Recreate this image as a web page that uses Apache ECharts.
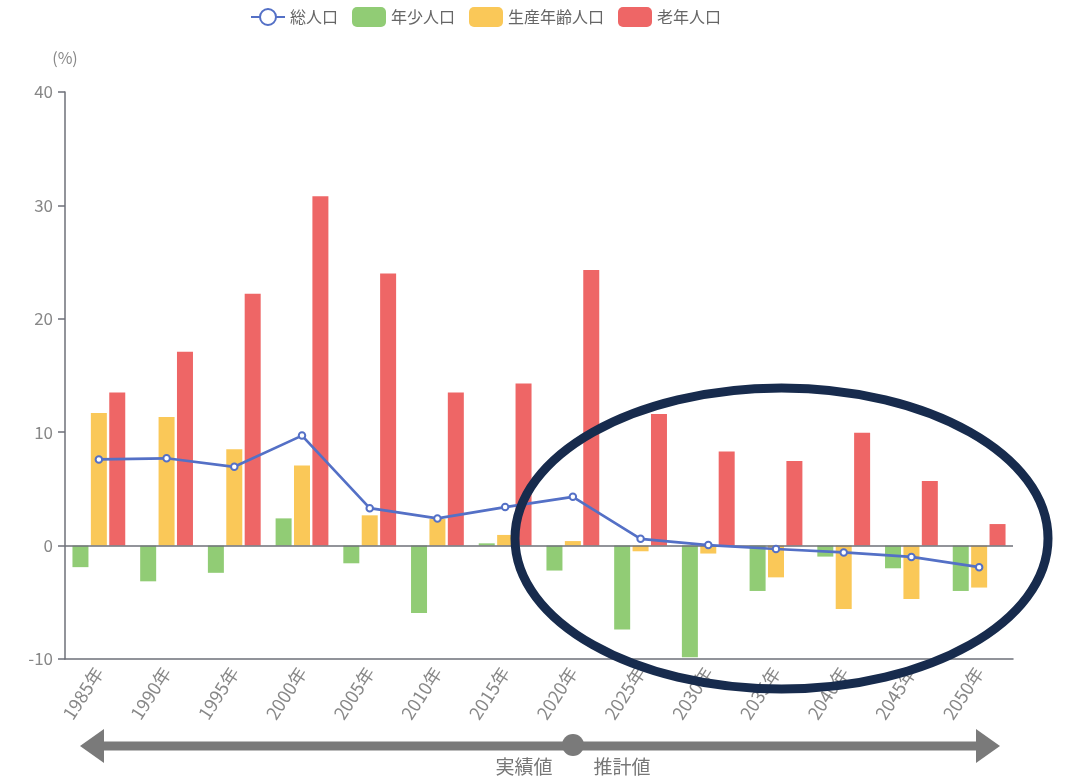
<!DOCTYPE html>
<html>
<head>
<meta charset="utf-8">
<script src="https://cdn.jsdelivr.net/npm/echarts@6/dist/echarts.min.js"></script>
<style>
html,body{margin:0;padding:0;background:#fff;}
#chart{width:1066px;height:783px;}
</style>
</head>
<body>
<div id="chart"></div>
<script>
const categories = ['1985年','1990年','1995年','2000年','2005年','2010年','2015年','2020年','2025年','2030年','2035年','2040年','2045年','2050年'];
const seriesNames = ['総人口','年少人口','生産年齢人口','老年人口'];
const total      = [7.6, 7.7, 6.95, 9.7, 3.3, 2.4, 3.4, 4.3, 0.6, 0.05, -0.3, -0.6, -1.0, -1.9];
const youth      = [-1.9, -3.15, -2.4, 2.4, -1.56, -5.94, 0.2, -2.2, -7.4, -9.85, -4.0, -0.97, -2.0, -4.0];
const working    = [11.7, 11.35, 8.5, 7.06, 2.67, 2.35, 0.94, 0.4, -0.5, -0.7, -2.8, -5.6, -4.7, -3.7];
const elderly    = [13.5, 17.1, 22.2, 30.8, 24.0, 13.5, 14.3, 24.3, 11.6, 8.3, 7.45, 9.95, 5.7, 1.9];
const yTicks = { min: -10, max: 40, interval: 10 };
const periodLabels = ['実績値', '推計値'];

const FONT = '"Noto Sans CJK JP", "Noto Sans", sans-serif';
const chart = echarts.init(document.getElementById('chart'), null, { renderer: 'canvas' });

const barCommon = { type: 'bar', barWidth: 16, barGap: '15%' };

chart.setOption({
  animation: false,
  textStyle: { fontFamily: FONT },
  color: ['#5470c6', '#91cc75', '#fac858', '#ee6666'],
  legend: {
    top: 2,
    left: 245,
    itemWidth: 34,
    itemHeight: 20,
    itemGap: 14,
    textStyle: { fontSize: 16, color: '#666', fontFamily: FONT },
    data: seriesNames
  },
  grid: { left: 65, right: 53, top: 92, bottom: 124, containLabel: false },
  xAxis: {
    type: 'category',
    data: categories,
    axisLine: { onZero: false, lineStyle: { color: '#6e7079', width: 1.5 } },
    axisTick: { alignWithLabel: true, length: 7, lineStyle: { color: '#6e7079', width: 1.5 } },
    axisLabel: { rotate: 57, fontSize: 18, color: '#888', margin: 10, fontFamily: FONT }
  },
  yAxis: {
    type: 'value',
    min: yTicks.min, max: yTicks.max, interval: yTicks.interval,
    name: '(%)',
    nameGap: 26,
    nameTextStyle: { fontSize: 16, color: '#888', align: 'center', fontFamily: FONT },
    axisLine: { show: true, lineStyle: { color: '#6e7079', width: 1.5 } },
    axisTick: { show: true, length: 7, lineStyle: { color: '#6e7079', width: 1.5 } },
    axisLabel: { fontSize: 17, color: '#888', margin: 12, fontFamily: FONT },
    splitLine: { show: false }
  },
  series: [
    {
      name: seriesNames[0], type: 'line', data: total, z: 5,
      symbol: 'emptyCircle', symbolSize: 6.5,
      lineStyle: { width: 2.7 },
      itemStyle: { borderWidth: 2.5 }
    },
    Object.assign({ name: seriesNames[1], data: youth,
      markLine: { silent: true, symbol: 'none', label: { show: false },
        lineStyle: { color: '#6e7079', type: 'solid', width: 1.5 },
        data: [{ yAxis: 0 }] } }, barCommon),
    Object.assign({ name: seriesNames[2], data: working }, barCommon),
    Object.assign({ name: seriesNames[3], data: elderly }, barCommon)
  ],
  graphic: [
    { type: 'ellipse', z: 100, shape: { cx: 781.5, cy: 538.5, rx: 266.5, ry: 150.5 },
      style: { fill: 'none', stroke: '#172b4d', lineWidth: 9 } },
    { type: 'line', z: 100, shape: { x1: 98, y1: 746, x2: 982, y2: 746 },
      style: { stroke: '#7a7a7a', lineWidth: 9 } },
    { type: 'polygon', z: 100, shape: { points: [[80, 746], [104, 729], [104, 763]] },
      style: { fill: '#7a7a7a' } },
    { type: 'polygon', z: 100, shape: { points: [[1000, 746], [976, 729], [976, 763]] },
      style: { fill: '#7a7a7a' } },
    { type: 'circle', z: 101, shape: { cx: 573, cy: 745, r: 11 },
      style: { fill: '#7a7a7a' } },
    { type: 'text', z: 101, x: 524, y: 767,
      style: { text: periodLabels[0], fill: '#777', font: '19px ' + FONT, textAlign: 'center', textVerticalAlign: 'middle' } },
    { type: 'text', z: 101, x: 622, y: 767,
      style: { text: periodLabels[1], fill: '#777', font: '19px ' + FONT, textAlign: 'center', textVerticalAlign: 'middle' } }
  ]
});
</script>
</body>
</html>
